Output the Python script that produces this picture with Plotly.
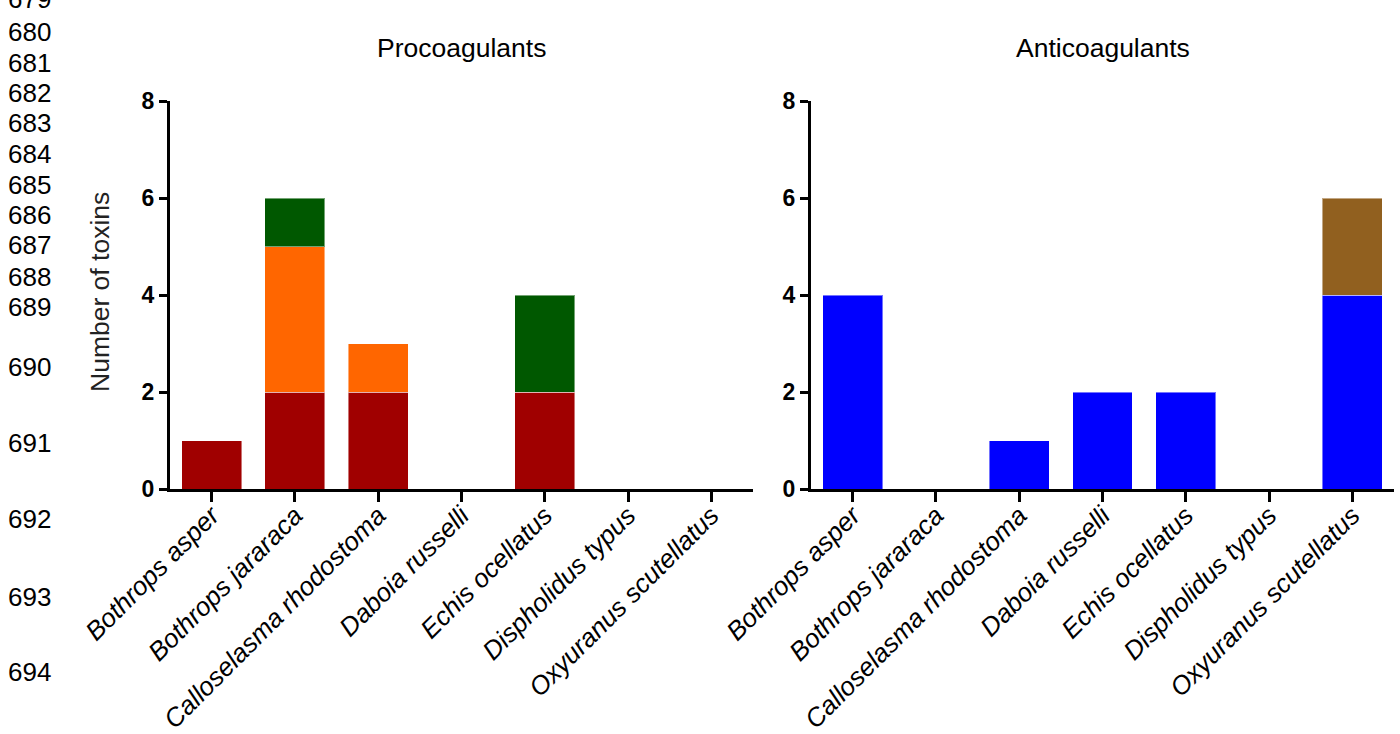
import plotly.graph_objects as go

species = ["Bothrops asper", "Bothrops jararaca", "Calloselasma rhodostoma",
           "Daboia russelli", "Echis ocellatus", "Dispholidus typus",
           "Oxyuranus scutellatus"]

# Procoagulants (stacked)
pro_red = [1, 2, 2, 0, 2, 0, 0]
pro_orange = [0, 3, 1, 0, 0, 0, 0]
pro_green = [0, 1, 0, 0, 2, 0, 0]

# Anticoagulants (stacked)
anti_blue = [4, 0, 1, 2, 2, 0, 4]
anti_brown = [0, 0, 0, 0, 0, 0, 2]

y_ticks = [0, 2, 4, 6, 8]
line_numbers = ["679", "680", "681", "682", "683", "684", "685", "686", "687",
                "688", "689", "690", "691", "692", "693", "694"]
line_number_y = [-1, 32, 63, 93, 123, 154, 185, 215, 245, 277, 307, 367, 443, 519, 597, 672]

W, H = 1400, 734


def nz(vals):
    return [v if v != 0 else None for v in vals]


fig = go.Figure()
edge = dict(color="rgba(255,255,255,0.45)", width=1)
for vals, col, name in [(pro_red, "#A00000", "Procoagulant (red)"),
                        (pro_orange, "#FF6600", "Procoagulant (orange)"),
                        (pro_green, "#005800", "Procoagulant (green)")]:
    fig.add_trace(go.Bar(x=species, y=nz(vals), marker=dict(color=col, line=edge),
                         name=name, xaxis="x", yaxis="y"))
for vals, col, name in [(anti_blue, "#0000FF", "Anticoagulant (blue)"),
                        (anti_brown, "#91601F", "Anticoagulant (brown)")]:
    fig.add_trace(go.Bar(x=species, y=nz(vals), marker=dict(color=col, line=edge),
                         name=name, xaxis="x2", yaxis="y2"))

ydom = [1 - 489 / H, 1 - 101 / H]
xdom1 = [170 / W, 753 / W]
xdom2 = [811 / W, 1394 / W]

xcommon = dict(showline=True, linewidth=3, linecolor="black", ticks="outside",
               ticklen=10, tickwidth=3, tickcolor="black", tickangle=-45,
               ticklabelstandoff=-12,
               showgrid=False, zeroline=False, range=[-0.5, 6.5],
               tickfont=dict(family="Liberation Sans, Arial", size=26,
                             color="black", style="italic"))
ycommon = dict(showline=True, linewidth=3, linecolor="black", ticks="outside",
               ticklen=8, tickwidth=3, tickcolor="black", range=[0, 8],
               tickvals=y_ticks, showgrid=False, zeroline=False,
               tickfont=dict(family="Liberation Sans, Arial", size=23,
                             color="black", weight="bold"))

fig.update_layout(
    width=W, height=H, margin=dict(l=0, r=0, t=0, b=0, autoexpand=False),
    paper_bgcolor="white", plot_bgcolor="white",
    barmode="stack", bargap=0.28, showlegend=False,
    xaxis=dict(domain=xdom1, anchor="y", **xcommon),
    yaxis=dict(domain=ydom, anchor="x", **ycommon),
    xaxis2=dict(domain=xdom2, anchor="y2", **xcommon),
    yaxis2=dict(domain=ydom, anchor="x2", **ycommon),
)

ann = []
for txt, dom in [("Procoagulants", xdom1), ("Anticoagulants", xdom2)]:
    ann.append(dict(text=txt, x=(dom[0] + dom[1]) / 2, y=1 - 48 / H,
                    xref="paper", yref="paper", showarrow=False,
                    xanchor="center", yanchor="middle",
                    font=dict(family="Liberation Sans, Arial", size=26.5, color="black")))
ann.append(dict(text="Number of toxins", x=100 / W, y=1 - 292 / H,
                xref="paper", yref="paper", showarrow=False, textangle=-90,
                xanchor="center", yanchor="middle",
                font=dict(family="Liberation Sans, Arial", size=26.5, color="#222222")))
for t, yy in zip(line_numbers, line_number_y):
    ann.append(dict(text=t, x=6 / W, y=1 - yy / H, xref="paper", yref="paper",
                    xanchor="left", yanchor="middle", showarrow=False,
                    font=dict(family="Liberation Sans, Arial", size=26, color="black")))
fig.update_layout(annotations=ann)

fig.write_html("out.html", config={"displayModeBar": False},
               post_script="document.body.style.margin='0px';")
